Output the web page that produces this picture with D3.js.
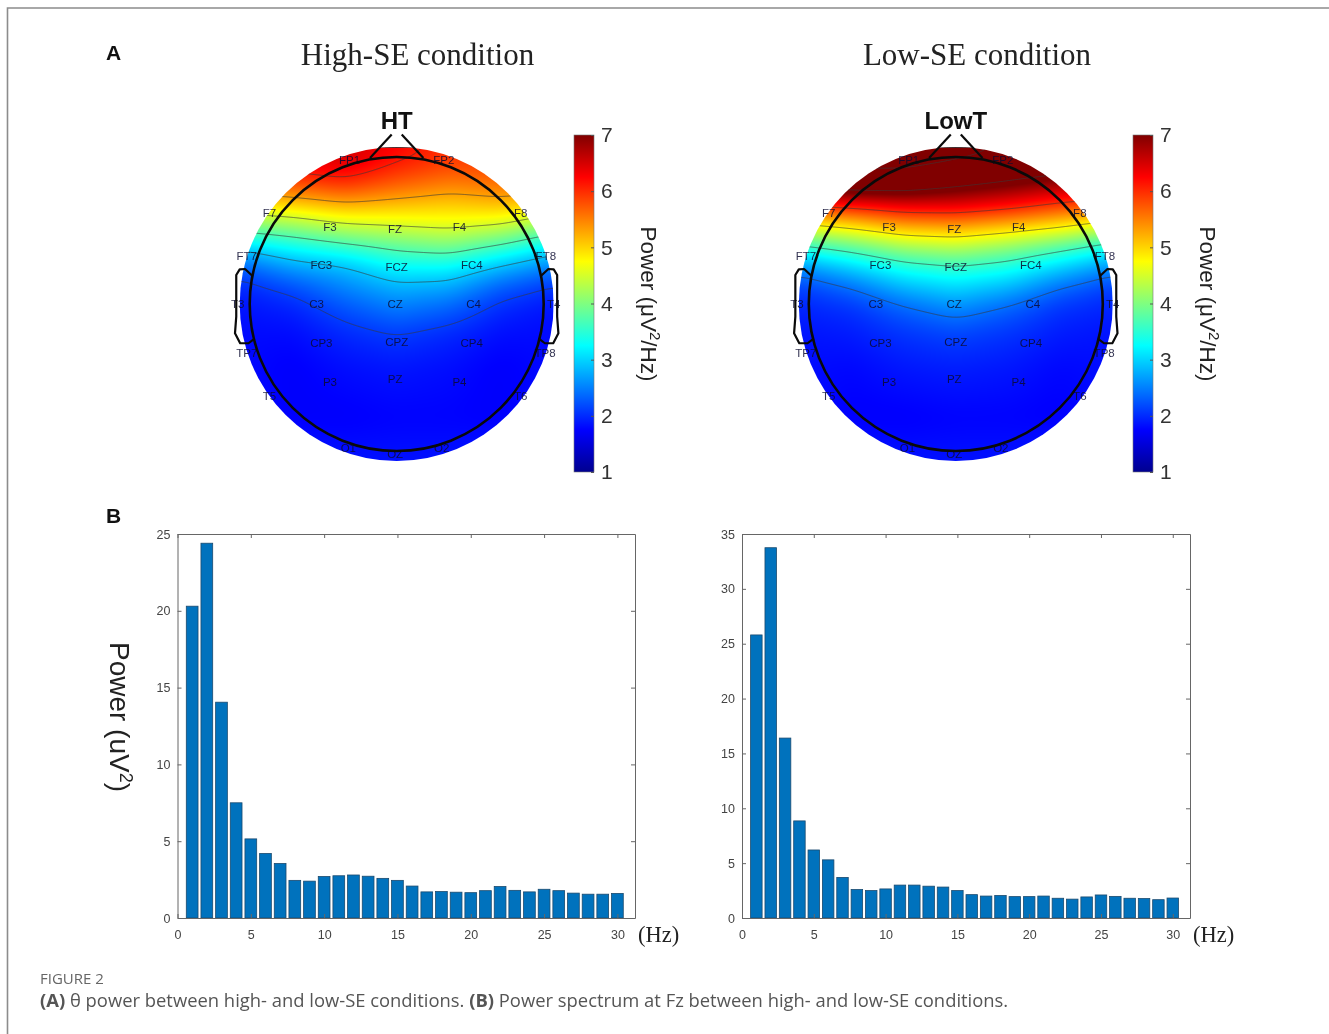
<!DOCTYPE html>
<html>
<head>
<meta charset="utf-8">
<script src="https://cdn.jsdelivr.net/npm/d3@7"></script>
<style>
  body { margin: 0; background: #fff; }
  svg { display: block; filter: blur(0.45px); }
  text { font-family: "Liberation Sans", Arial, sans-serif; }
  .serif { font-family: "Liberation Serif", "Times New Roman", serif; }
</style>
</head>
<body>
<svg id="chart" width="1329" height="1034"></svg>
<script>
//spectrum values, 1-30 Hz
const freqs = d3.range(1, 31);
const powerHigh = [20.3, 24.4, 14.05, 7.5, 5.15, 4.2, 3.55, 2.45, 2.4, 2.7, 2.75, 2.8, 2.72, 2.58, 2.45,
  2.08, 1.7, 1.72, 1.68, 1.65, 1.78, 2.05, 1.8, 1.7, 1.87, 1.78, 1.62, 1.55, 1.55, 1.6];
const powerLow = [25.8, 33.75, 16.4, 8.85, 6.2, 5.3, 3.7, 2.6, 2.5, 2.65, 3.0, 3.0, 2.9, 2.82, 2.5,
  2.13, 2.0, 2.05, 1.95, 1.95, 2.0, 1.8, 1.72, 1.92, 2.1, 1.97, 1.8, 1.77, 1.67, 1.82];
const xTicks = [0, 5, 10, 15, 20, 25, 30];
const yTicksHigh = [0, 5, 10, 15, 20, 25];
const yTicksLow = [0, 5, 10, 15, 20, 25, 30, 35];

//scalp power estimated at a coarse grid, one row per headRows entry
const headCols = [-1, -0.667, -0.333, 0, 0.333, 0.667, 1];
const headRows = [-1, -0.875, -0.747, -0.62, -0.493, -0.365, -0.238, -0.11, 0.017, 0.187, 0.4, 0.718, 1];
const fieldHigh = [
  [6.5, 6.5, 6.6, 6.3, 6.0, 6.0, 6.0],
  [6.2, 6.3, 6.4, 6.05, 5.85, 5.85, 5.8],
  [5.6, 5.7, 5.9, 5.65, 5.45, 5.55, 5.5],
  [4.8, 4.95, 5.15, 5.07, 5.0, 5.1, 4.85],
  [3.95, 4.1, 4.4, 4.5, 4.6, 4.45, 4.0],
  [3.0, 3.3, 3.55, 3.8, 3.95, 3.6, 3.15],
  [2.3, 2.7, 2.85, 3.25, 3.25, 2.85, 2.5],
  [1.95, 2.2, 2.55, 2.8, 2.75, 2.3, 2.05],
  [1.85, 1.95, 2.25, 2.5, 2.35, 2.0, 1.85],
  [1.8, 1.8, 1.98, 2.1, 1.98, 1.82, 1.8],
  [1.8, 1.72, 1.82, 1.87, 1.82, 1.72, 1.8],
  [1.85, 1.72, 1.72, 1.75, 1.75, 1.72, 1.85],
  [1.95, 1.9, 1.85, 1.85, 1.85, 1.9, 1.95]
];
const fieldLow = [
  [9.0, 9.4, 9.4, 9.0, 8.4, 8.2, 8.0],
  [8.2, 8.5, 8.5, 8.05, 7.7, 7.5, 7.3],
  [7.3, 7.5, 7.45, 7.2, 7.0, 6.7, 6.5],
  [5.9, 6.05, 6.3, 6.35, 6.15, 5.85, 5.65],
  [4.6, 4.9, 5.25, 5.3, 5.1, 4.85, 4.45],
  [3.5, 3.8, 4.2, 4.35, 4.1, 3.75, 3.35],
  [2.6, 3.0, 3.4, 3.55, 3.4, 3.0, 2.6],
  [2.1, 2.4, 2.85, 3.05, 2.85, 2.4, 2.1],
  [1.95, 2.05, 2.35, 2.6, 2.35, 2.05, 1.95],
  [1.85, 1.9, 2.05, 2.15, 2.05, 1.9, 1.85],
  [1.82, 1.78, 1.88, 1.92, 1.88, 1.78, 1.82],
  [1.85, 1.72, 1.72, 1.75, 1.75, 1.72, 1.85],
  [1.95, 1.9, 1.85, 1.85, 1.85, 1.9, 1.95]
];
const levelsHigh = [2.1, 2.9, 3.7, 4.5, 5.3, 6.1];
const levelsLow = [2.4, 3.6, 4.8, 6.0, 7.2, 8.4];
const colorbarTicks = [1, 2, 3, 4, 5, 6, 7];

//10-20 electrode labels in head units
const electrodes = ["FP1", "FP2", "F7", "F3", "FZ", "F4", "F8", "FT7", "FC3", "FCZ", "FC4", "FT8", "T3", "C3", "CZ",
  "C4", "T4", "TP7", "CP3", "CPZ", "CP4", "TP8", "T5", "P3", "PZ", "P4", "T6", "O1", "OZ", "O2"];
const electrodeU = [-0.3, 0.3, -0.81, -0.425, -0.01, 0.4, 0.79, -0.955, -0.48, 0, 0.478, 0.95, -1.012, -0.51, -0.01,
  0.49, 1.0, -0.955, -0.48, 0, 0.478, 0.945, -0.81, -0.425, -0.01, 0.4, 0.79, -0.308, -0.01, 0.287];
const electrodeV = [-0.917, -0.917, -0.58, -0.49, -0.475, -0.49, -0.58, -0.308, -0.248, -0.238, -0.248, -0.308, 0, 0, 0,
  0, 0, 0.31, 0.251, 0.24, 0.251, 0.31, 0.584, 0.499, 0.478, 0.499, 0.584, 0.919, 0.955, 0.919];

//head outline in head units, right side is mirrored
const noseLeft = [[-0.17, -0.93], [-0.032, -1.08]];
const earLeft = [[-0.92, -0.18], [-0.966, -0.223], [-1.0, -0.221], [-1.022, -0.185], [-1.022, 0.08],
  [-1.03, 0.187], [-0.997, 0.25], [-0.944, 0.25], [-0.905, 0.22]];

const svg = d3.select("#chart");

//jet colour map over the 1-7 colour bar range
const jet = d3.scaleLinear()
  .domain([1, 1.75, 3.25, 4.75, 6.25, 7])
  .range(["#00008f", "#0000ff", "#00ffff", "#ffff00", "#ff0000", "#800000"])
  .clamp(true);

//page frame
svg.append("path")
  .attr("d", d3.line()([[7.5, 1034], [7.5, 8], [1329, 8]]))
  .attr("fill", "none")
  .attr("stroke", "#8c8c8c")
  .attr("stroke-width", 1.6);

//resample the coarse grid to image resolution
function resample(field, n) {
  const colIdx = d3.scaleLinear().domain(headCols).range(d3.range(headCols.length));
  const rowIdx = d3.scaleLinear().domain(headRows).range(d3.range(headRows.length));
  const data = new Float64Array(n * n);
  for (let j = 0; j < n; j++) {
    const r = rowIdx(-1 + (2 * (j + 0.5)) / n);
    const r0 = Math.min(Math.floor(r), headRows.length - 2);
    for (let i = 0; i < n; i++) {
      const c = colIdx(-1 + (2 * (i + 0.5)) / n);
      const c0 = Math.min(Math.floor(c), headCols.length - 2);
      const top = field[r0][c0] * (1 - (c - c0)) + field[r0][c0 + 1] * (c - c0);
      const bot = field[r0 + 1][c0] * (1 - (c - c0)) + field[r0 + 1][c0 + 1] * (c - c0);
      data[j * n + i] = top * (1 - (r - r0)) + bot * (r - r0);
    }
  }
  d3.blur2({ data, width: n, height: n }, 9);
  return data;
}

function drawHead(id, cx, cy, field, levels, title) {
  const R = 157;
  const n = 314;
  const g = svg.append("g");
  const hx = d3.scaleLinear().domain([-1, 1]).range([cx - R, cx + R]);
  const hy = d3.scaleLinear().domain([-1, 1]).range([cy - R, cy + R]);
  const data = resample(field, n);

  //heat image
  const canvas = document.createElement("canvas");
  canvas.width = n;
  canvas.height = n;
  const ctx = canvas.getContext("2d");
  const img = ctx.createImageData(n, n);
  data.forEach((v, i) => {
    const c = d3.rgb(jet(v));
    img.data[i * 4] = c.r;
    img.data[i * 4 + 1] = c.g;
    img.data[i * 4 + 2] = c.b;
    img.data[i * 4 + 3] = 255;
  });
  ctx.putImageData(img, 0, 0);

  svg.append("clipPath").attr("id", id)
    .append("circle").attr("cx", cx).attr("cy", cy).attr("r", R);

  const clipped = g.append("g").attr("clip-path", `url(#${id})`);
  clipped.append("image")
    .attr("x", cx - R).attr("y", cy - R)
    .attr("width", 2 * R).attr("height", 2 * R)
    .attr("href", canvas.toDataURL());

  //iso lines
  const contours = d3.contours().size([n, n]).thresholds(levels)(data);
  clipped.append("g")
    .attr("transform", `translate(${cx - R},${cy - R})`)
    .selectAll("path")
    .data(contours)
    .join("path")
    .attr("d", d3.geoPath())
    .attr("fill", "none")
    .attr("stroke", "#3a3a3a")
    .attr("stroke-opacity", 0.7)
    .attr("stroke-width", 0.9);

  //electrode names
  g.append("g")
    .selectAll("text")
    .data(electrodes)
    .join("text")
    .attr("x", (d, i) => hx(electrodeU[i]))
    .attr("y", (d, i) => hy(electrodeV[i]))
    .attr("dy", "0.35em")
    .attr("text-anchor", "middle")
    .attr("font-size", 11.5)
    .attr("fill", "#0c0c30")
    .attr("fill-opacity", 0.85)
    .text(d => d);

  //head, nose and ears
  const line = d3.line().x(d => hx(d[0])).y(d => hy(d[1]));
  const mirror = pts => pts.map(p => [-p[0], p[1]]);
  g.append("circle")
    .attr("cx", cx).attr("cy", cy).attr("r", 147)
    .attr("fill", "none").attr("stroke", "#0a0a0a").attr("stroke-width", 2.6);
  g.selectAll(".outline")
    .data([noseLeft, mirror(noseLeft), earLeft, mirror(earLeft)])
    .join("path")
    .attr("class", "outline")
    .attr("d", line)
    .attr("fill", "none")
    .attr("stroke", "#0a0a0a")
    .attr("stroke-width", 2.2)
    .attr("stroke-linejoin", "round");

  g.append("text")
    .attr("x", cx).attr("y", 129)
    .attr("text-anchor", "middle")
    .attr("font-size", 24)
    .attr("font-weight", "bold")
    .attr("fill", "#111")
    .text(title);
}

function drawColorbar(id, x0) {
  const w = 20;
  const y = d3.scaleLinear().domain([1, 7]).range([472, 135]);
  const grad = svg.append("linearGradient").attr("id", id)
    .attr("x1", 0).attr("y1", 1).attr("x2", 0).attr("y2", 0);
  grad.selectAll("stop")
    .data(jet.domain())
    .join("stop")
    .attr("offset", d => (d - 1) / 6)
    .attr("stop-color", d => jet(d));
  svg.append("rect")
    .attr("x", x0).attr("y", y(7))
    .attr("width", w).attr("height", y(1) - y(7))
    .attr("fill", `url(#${id})`)
    .attr("stroke", "#777").attr("stroke-width", 0.6);

  const axis = svg.append("g")
    .attr("transform", `translate(${x0 + w},0)`)
    .call(d3.axisRight(y).tickValues(colorbarTicks).tickSize(-3).tickPadding(7).tickFormat(d3.format("d")));
  axis.select(".domain").remove();
  axis.selectAll("line").attr("stroke", "#555");
  axis.selectAll("text").attr("font-size", 21).attr("fill", "#333");

  const label = svg.append("text")
    .attr("transform", `translate(${x0 + 67},304) rotate(90)`)
    .attr("text-anchor", "middle")
    .attr("font-size", 22.5)
    .attr("fill", "#222");
  label.append("tspan").text("Power (μV");
  label.append("tspan").attr("dy", -9).attr("font-size", 15).text("2");
  label.append("tspan").attr("dy", 9).text("/Hz)");
}

function drawBars(values, yMax, yTicks, left, right) {
  const top = 534;
  const bottom = 918;
  const x = d3.scaleLinear().domain([0, 31.2]).range([left, right]);
  const y = d3.scaleLinear().domain([0, yMax]).range([bottom, top]);
  const g = svg.append("g");
  const bw = (x(0.8) - x(0));

  g.selectAll("rect")
    .data(values)
    .join("rect")
    .attr("x", (d, i) => x(freqs[i]) - bw / 2)
    .attr("y", d => y(d))
    .attr("width", bw)
    .attr("height", d => bottom - y(d))
    .attr("fill", "#0072bd")
    .attr("stroke", "#1a4a6e")
    .attr("stroke-width", 0.8);

  const bottomAxis = g.append("g").attr("transform", `translate(0,${bottom})`)
    .call(d3.axisBottom(x).tickValues(xTicks).tickSizeInner(-4).tickSizeOuter(0).tickPadding(12));
  const leftAxis = g.append("g").attr("transform", `translate(${left},0)`)
    .call(d3.axisLeft(y).tickValues(yTicks).tickSizeInner(-4).tickSizeOuter(0).tickPadding(7));
  const topAxis = g.append("g").attr("transform", `translate(0,${top})`)
    .call(d3.axisTop(x).tickValues(xTicks).tickSizeInner(-4).tickSizeOuter(0).tickFormat(""));
  const rightAxis = g.append("g").attr("transform", `translate(${right},0)`)
    .call(d3.axisRight(y).tickValues(yTicks).tickSizeInner(-4).tickSizeOuter(0).tickFormat(""));

  [bottomAxis, leftAxis, topAxis, rightAxis].forEach(a => {
    a.selectAll("path,line").attr("stroke", "#666");
    a.selectAll("text").attr("font-size", 12.5).attr("fill", "#444");
  });

  g.append("text")
    .attr("class", "serif")
    .attr("x", right + 3).attr("y", 942)
    .attr("font-size", 22.5)
    .attr("fill", "#222")
    .text("(Hz)");
}

drawHead("headHigh", 396.7, 304, fieldHigh, levelsHigh, "HT");
drawHead("headLow", 955.8, 304, fieldLow, levelsLow, "LowT");
drawColorbar("barHigh", 574);
drawColorbar("barLow", 1133);
drawBars(powerHigh, 25, yTicksHigh, 177.5, 635);
drawBars(powerLow, 35, yTicksLow, 742, 1190);

//panel titles and letters
svg.append("text").attr("class", "serif").attr("x", 417.5).attr("y", 65)
  .attr("text-anchor", "middle").attr("font-size", 31).attr("fill", "#222").text("High-SE condition");
svg.append("text").attr("class", "serif").attr("x", 977).attr("y", 65)
  .attr("text-anchor", "middle").attr("font-size", 31).attr("fill", "#222").text("Low-SE condition");
svg.append("text").attr("x", 106).attr("y", 60).attr("font-size", 21).attr("font-weight", "bold").attr("fill", "#111").text("A");
svg.append("text").attr("x", 106).attr("y", 523).attr("font-size", 21).attr("font-weight", "bold").attr("fill", "#111").text("B");

//y label of the left spectrum
const powerLabel = svg.append("text")
  .attr("transform", "translate(110,717) rotate(90)")
  .attr("text-anchor", "middle")
  .attr("font-size", 28)
  .attr("fill", "#222");
powerLabel.append("tspan").text("Power (uV");
powerLabel.append("tspan").attr("dy", -10).attr("font-size", 18).text("2");
powerLabel.append("tspan").attr("dy", 10).text(")");

//caption
svg.append("text").attr("x", 40).attr("y", 984)
  .style("font-family", "'Open Sans', sans-serif")
  .attr("font-size", 15).attr("fill", "#666").text("FIGURE 2");
const caption = svg.append("text").attr("x", 40).attr("y", 1007)
  .style("font-family", "'Open Sans', sans-serif")
  .attr("font-size", 18.4).attr("fill", "#555");
caption.append("tspan").attr("font-weight", "bold").text("(A)");
caption.append("tspan").text(" θ power between high- and low-SE conditions. ");
caption.append("tspan").attr("font-weight", "bold").text("(B)");
caption.append("tspan").text(" Power spectrum at Fz between high- and low-SE conditions.");
</script>
</body>
</html>
